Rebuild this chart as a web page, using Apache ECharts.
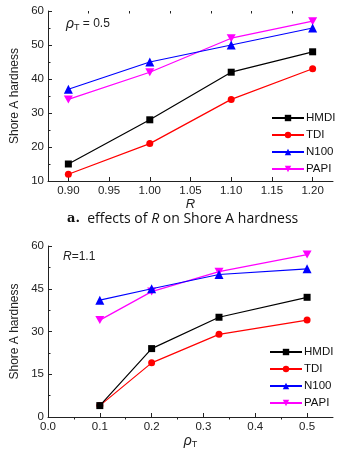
<!DOCTYPE html>
<html><head><meta charset="utf-8">
<script src="https://cdn.jsdelivr.net/npm/echarts@6/dist/echarts.min.js"></script>
<style>html,body{margin:0;padding:0;background:#fff}#c{width:343px;height:453px}</style>
</head><body><div id="c"></div>
<script>
// Chart a: effects of R
const seriesNames = ['HMDI', 'TDI', 'N100', 'PAPI'];
const rValues = [0.90, 1.00, 1.10, 1.20];
const hmdiA = [15, 28, 42, 48];
const tdiA = [12, 21, 34, 43];
const n100A = [37, 45, 50, 55];
const papiA = [34, 42, 52, 57];
const xTicksA = [0.90, 0.95, 1.00, 1.05, 1.10, 1.15, 1.20];
const xMinorA = [0.925, 0.975, 1.025, 1.075, 1.125, 1.175];
// Chart b: effects of rho_T
const rhoValues = [0.1, 0.2, 0.33, 0.5];
const hmdiB = [4, 24, 35, 42];
const tdiB = [4, 19, 29, 34];
const n100B = [41, 45, 50, 52];
const papiB = [34, 44, 51, 57];
const xTicksB = [0.0, 0.1, 0.2, 0.3, 0.4, 0.5];
const xMinorB = [0.05, 0.15, 0.25, 0.35, 0.45];

const colors = ['#000000', '#ff0000', '#0000ff', '#ff00ff'];
const symbols = ['rect', 'circle', 'triangle', 'path://M0,0 L10,0 L5,9 Z'];
const font = 'Liberation Sans, Arial, sans-serif';

function pairs(xs, ys) { return xs.map((x, i) => [x, ys[i]]); }

const chart = echarts.init(document.getElementById('c'));
const axisLineStyle = { color: '#222', width: 1 };

function xAxes(gridIndex, min, max, ticks, minor, nameRich) {
  return [
    {
      type: 'value', gridIndex, min, max,
      axisLine: { show: true, onZero: false, lineStyle: axisLineStyle },
      axisTick: { show: true, inside: true, length: 4, customValues: ticks, lineStyle: axisLineStyle },
      axisLabel: { customValues: ticks, color: '#222', fontFamily: font, fontSize: 11.5, margin: 4,
        formatter: v => ticks === xTicksA ? v.toFixed(2) : v.toFixed(1) },
      splitLine: { show: false },
      name: nameRich.text, nameLocation: 'middle', nameGap: nameRich.gap,
      nameTextStyle: nameRich.style
    },
    {
      type: 'value', gridIndex, min, max,
      axisLine: { show: false },
      axisTick: { show: true, inside: true, length: 2.5, customValues: minor, lineStyle: axisLineStyle },
      axisLabel: { show: false },
      splitLine: { show: false }
    }
  ];
}

function yAxis(gridIndex, min, max, interval) {
  return {
    type: 'value', gridIndex, min, max, interval,
    axisLine: { show: true, onZero: false, lineStyle: axisLineStyle },
    axisTick: { show: true, inside: true, length: 4, lineStyle: axisLineStyle },
    minorTick: { show: true, splitNumber: 2, length: 2.5, lineStyle: axisLineStyle },
    axisLabel: { color: '#222', fontFamily: font, fontSize: 11.5, margin: 4 },
    splitLine: { show: false },
    name: 'Shore A hardness', nameLocation: 'middle', nameGap: 27,
    nameTextStyle: { color: '#222', fontFamily: font, fontSize: 12 }
  };
}

const dataA = [hmdiA, tdiA, n100A, papiA];
const dataB = [hmdiB, tdiB, n100B, papiB];
const series = [];
[[dataA, rValues, 0, 0], [dataB, rhoValues, 2, 1]].forEach(([ds, xs, xi, yi]) => {
  ds.forEach((ys, i) => {
    series.push({
      type: 'line', name: seriesNames[i], xAxisIndex: xi, yAxisIndex: yi,
      data: pairs(xs, ys), symbol: symbols[i],
      symbolSize: i === 3 ? [9, 8] : (i === 2 ? 9 : 7),
      showAllSymbol: true,
      lineStyle: { color: colors[i], width: 1.2 },
      itemStyle: { color: colors[i] },
      z: 10 - i,
      animation: false
    });
  });
});

const legendBase = {
  orient: 'vertical', itemWidth: 32, itemHeight: 8, itemGap: 5,
  textStyle: { color: '#111', fontFamily: font, fontSize: 11.5, padding: [0, 0, 0, -3] },
  data: seriesNames, selectedMode: false
};

chart.setOption({
  animation: false,
  grid: [
    { left: 48, top: 11, width: 285, height: 170 },
    { left: 48, top: 246, width: 285, height: 171 }
  ],
  xAxis: [
    ...xAxes(0, 0.875, 1.225, xTicksA, xMinorA, { text: 'R', gap: 15,
      style: { color: '#222', fontFamily: font, fontSize: 13, fontStyle: 'italic' } }),
    ...xAxes(1, 0, 0.55, xTicksB, xMinorB, { text: '{r|ρ}{s|T}', gap: 14,
      style: { rich: { r: { fontFamily: font, fontSize: 14, fontStyle: 'italic', color: '#222' },
                       s: { fontFamily: font, fontSize: 9, color: '#222', padding: [8, 0, 0, 0] } } } })
  ],
  yAxis: [yAxis(0, 10, 60, 10), yAxis(1, 0, 60, 15)],
  legend: [
    Object.assign({ left: 266, top: 107 }, legendBase),
    Object.assign({ left: 264, top: 341 }, legendBase)
  ],
  graphic: [
    { type: 'text', left: 66, top: 17, style: { text: '{r|ρ}{s|T}{n| = 0.5}',
      rich: { r: { fontFamily: font, fontSize: 14, fontStyle: 'italic', fill: '#222' },
              s: { fontFamily: font, fontSize: 9, fill: '#222', padding: [8, 0, 0, 0] },
              n: { fontFamily: font, fontSize: 12, fill: '#222' } } } },
    { type: 'text', left: 63, top: 251, style: { text: '{r|R}{n|=1.1}',
      rich: { r: { fontFamily: font, fontSize: 12, fontStyle: 'italic', fill: '#222' },
              n: { fontFamily: font, fontSize: 12, fill: '#222' } } } },
    { type: 'text', left: 67, top: 212, style: { text: '{b|a.}{n|  effects of }{i|R}{n| on Shore A hardness}',
      rich: { b: { fontFamily: 'DejaVu Serif', fontWeight: 'bold', fontSize: 13, fill: '#111' },
              n: { fontFamily: 'Open Sans', fontSize: 14, fill: '#111' },
              i: { fontFamily: 'Open Sans', fontStyle: 'italic', fontSize: 14, fill: '#111' } } } }
  ],
  series
});
</script></body></html>
